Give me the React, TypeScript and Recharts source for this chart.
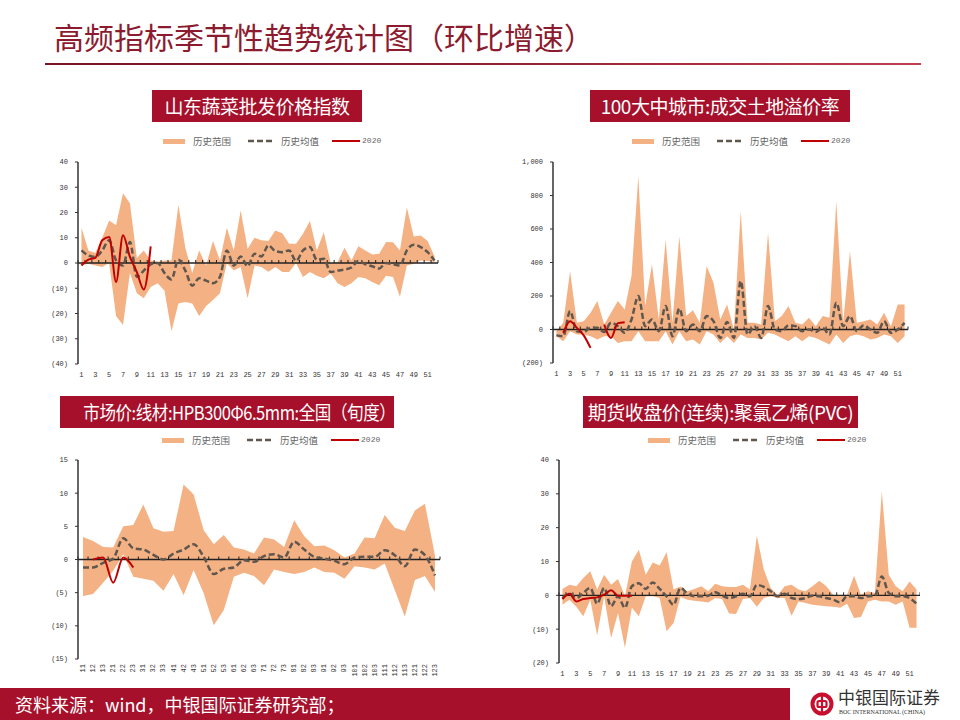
import React from 'react'
import { ComposedChart, Area, Line, XAxis, YAxis, ReferenceLine } from 'recharts'

const CJK = '"Noto Sans CJK SC", "Noto Sans", sans-serif'
const TICK_FONT = '"Liberation Mono", "DejaVu Sans Mono", monospace'
const BOX_RED = '#a6102b'
const AREA_FILL = '#f4b183'
const AVG_COLOR = '#5f564e'
const RED = '#c00000'

// week numbers 1..52 (category labels)
const WEEKS = Array.from({ length: 52 }, (_, i) => String(i + 1))
// month + dekad labels
const DEKADS = [
  '11', '12', '13', '21', '22', '23', '31', '32', '33', '41', '42', '43',
  '51', '52', '53', '61', '62', '63', '71', '72', '73', '81', '82', '83',
  '91', '92', '93', '101', '102', '103', '111', '112', '113', '121', '122', '123',
]

// 山东蔬菜批发价格指数
const vegHigh = [14, 5, 4, 10, 16.8, 15, 27.6, 23.7, 2, 5, 1, 0.5, 1, 1, 23, 6, -4, 5, -1, 8.7, 1, 14, 5, 20.8, 5.6, 10, 9, 8.7, 12.9, 11.8, 7.6, 7.6, 11.6, 16.6, 5, 12.2, 0, 0.4, 6, 1, 6.6, 5, 3.4, 3.7, 8.3, 8.2, 5, 22, 10.5, 10.9, 8.7, 2.6]
const vegLow = [-1, -0.3, -1, -1.6, 0, -21, -24.6, -4, -12, -14, -9.5, -8, -11, -27, -16, -15.4, -16, -21, -17, -14.7, -12, 0, -3, -1.6, -14, -1, -1.6, -3.5, -1.6, -3.6, -3.6, 0, -5.5, -3.6, -5, -6, -4.2, -8, -9.5, -8, -5.5, -6, -7.5, -8.8, -5, -5.5, -13.4, -1, -0.3, 1, 0.8, 0.4]
const vegAvg = [5, 3, 2.4, 5, 9, 1, -1, 8.3, -5.5, -3, -0.5, 0, -4, -6.5, 1.3, -3, -9, -6, -7, -8, -5.5, 5, -1, 2.6, -1.3, 3.7, 2.6, 7, 4.7, 4.3, 5, 0.8, 5, 6.3, 1.3, 1.7, -3.6, -3, -2.6, -1.8, 0.8, -0.5, -1.3, -2.2, 0, -0.5, -1, 5, 7.2, 6.3, 4.3, 1]
const veg2020 = [-1, 1.3, 2, 9, 10.3, -7.5, 11, 2.4, -3.6, -10.5, 6.6]

// 100大中城市:成交土地溢价率
const landHigh = [-10, 40, 348, 40, 50, 100, 170, 30, 100, 170, 120, 320, 915, 140, 390, 60, 537, 40, 557, 80, 115, 40, 378, 280, 60, 150, 0, 706, 40, 40, 30, 577, 50, 80, 140, 40, 30, 70, 20, 80, 70, 766, 40, 468, 40, 50, 60, 30, 100, 20, 150, 150]
const landLow = [-40, -70, -10, -30, -30, -40, -60, -40, -40, -80, -70, -70, -10, -70, -70, -70, -10, -90, -10, -70, -60, -90, -10, -30, -80, -40, -80, -30, -50, -50, -60, -20, -30, -50, -70, -40, -70, -40, -50, -70, -90, -30, -80, -40, -30, -40, -60, -50, -30, -40, -80, -40]
const landAvg = [-35, -40, 110, -10, -15, 10, 10, -15, 40, 20, -20, 60, 200, 20, 60, -10, 140, -40, 125, -10, 30, -10, 80, 50, -50, 45, -50, 290, -30, 20, -50, 140, 0, -10, 25, 20, -10, 0, -15, 10, -30, 160, 20, 80, -10, 25, 0, -20, 50, -20, 0, 40]
const land2020 = [null, -20, 50, 10, -35, -110, null, 30, -50, 38, 44]

// 市场价:线材:HPB300Φ6.5mm:全国（旬度）
const wireHigh = [3.4, 2.8, 1.9, 1.8, 5, 5.2, 8.3, 4.7, 4.2, 4.3, 11.3, 9.8, 4.4, 2.3, 3.7, 1.8, 1.5, 0.9, 3.3, 3.0, 1.9, 5.9, 3.5, 2.0, 2.1, 1.4, 0.3, 0.9, 3.3, 3.2, 6.7, 4.8, 4.3, 7.4, 8.4, 0.6]
const wireLow = [-5.5, -5.2, -3.5, -1.7, 0.8, -2.6, -2.9, -3.2, -4.7, -2.2, -5.4, -1.6, -5.1, -9.9, -7.6, -2.6, -2.0, -2.5, -3.9, -1.5, -1.9, -2.2, -1.9, -1.2, -1.9, -2.0, -2.9, -1.0, -1.2, -1.5, -0.6, -4.6, -8.6, -3.1, -2.5, -4.9]
const wireAvg = [-1.2, -1.2, -0.5, 0.15, 3.2, 1.7, 1.5, 0.7, 0, 0.9, 1.5, 2.3, 0.4, -2.2, -1.4, -1.2, -0.1, -0.35, 0.5, 0.8, 0.3, 2.7, 1.5, 0.4, 0.15, -0.2, -0.7, 0.3, 0.4, 0.4, 1.4, 0.65, -1.0, 1.5, 0.65, -2.4]
const wire2020 = [null, 0, 0.3, -3.5, 0.3, -1.2]

// 期货收盘价(连续):聚氯乙烯(PVC)
const pvcHigh = [1.9, 3.1, 2.7, 5.1, 7.1, 1.7, 6.1, 3.1, 4.8, -0.3, 10, 13.5, 6.1, 9.7, 8.8, 12.7, 1.7, 2.6, 1.2, 1.9, 2.7, 1.2, 3.4, 2.7, 2.5, 2.5, 3.1, 1.7, 17.6, 7.6, 2.2, 0, 2.7, 3.1, 1.7, 1.2, 2.7, 4.3, 2.7, 0.2, -0.3, 0.2, 5.8, 0.2, 1.2, 0.7, 30.7, 6.1, 2.7, 1.2, 4.1, 1.7]
const pvcLow = [-2.8, -1.3, -3.4, -6.2, -1.3, -11.9, -0.3, -12.6, -5.2, -15.5, -3.7, -6.2, -0.3, -0.3, -0.8, -10.6, -8.2, -0.5, -1.3, -1.6, -1.8, -2.1, -0.8, -1.1, -5.4, -5.5, -1.1, -0.8, -3.4, -0.8, -0.3, -0.8, -0.8, -6, -1.8, -2.3, -2.8, -3, -3.2, -3.4, -3.7, -2.5, -6.7, -6.4, -1.8, -1.3, -1.8, -1.8, -2.8, -1.8, -9.6, -9.6]
const pvcAvg = [-0.8, 0.5, -0.8, 0.7, 2.2, -2.5, 2.2, -3.2, -0.3, -3.7, 2.7, 3.6, 1.9, 3.8, 1.9, -0.3, -2.8, 2.2, 0.5, -0.3, -0.3, -0.1, 0.9, -0.1, -0.8, -0.3, 0.5, -0.3, 3.1, 2.5, 1.2, -0.3, 0.5, -0.8, -1.1, -0.8, -0.1, -0.3, -0.8, -1.3, -2.1, -0.3, -0.3, -0.8, -0.3, -0.1, 5.6, 0.7, -0.3, -0.3, -0.8, -2.5]
const pvc2020 = [-1.1, 0.5, -1.8, -1.1, -0.8, -0.6, 0.2, 1.5, -0.1, -0.1, -0.1]

function buildRows(cats: string[], low: number[], high: number[], avg: number[], cur: (number | null)[]) {
  return cats.map((c, i) => ({
    cat: c,
    range: [low[i], high[i]],
    avg: avg[i],
    cur: cur[i] ?? null,
  }))
}

const fmtY = (v: number) => {
  const s = Math.abs(v).toLocaleString('en-US')
  return v < 0 ? `(${s})` : s
}

// zero line with small category tick marks, drawn like the Excel category axis
const zeroAxis = (count: number) => (props: any) => {
  const { x1, x2, y1 } = props
  const step = (x2 - x1) / count
  return (
    <g>
      <line x1={x1} x2={x2} y1={y1} y2={y1} stroke="#222" strokeWidth={1.3} />
      {Array.from({ length: count + 1 }, (_, i) => (
        <line key={i} x1={x1 + i * step} x2={x1 + i * step} y1={y1} y2={y1 - 3} stroke="#222" strokeWidth={1} />
      ))}
    </g>
  )
}

const RotatedTick = (props: any) => {
  const { x, y, payload } = props
  return (
    <text
      x={x}
      y={y}
      transform={`rotate(-90 ${x} ${y})`}
      textAnchor="end"
      dominantBaseline="central"
      fontSize={7}
      fontFamily={TICK_FONT}
      fill="#333"
    >
      {payload.value}
    </text>
  )
}

type PanelProps = {
  left: number
  top: number
  width: number
  height: number
  yWidth: number
  right: number
  rows: any[]
  domain: [number, number]
  ticks: number[]
  rotated?: boolean
}

function Panel({ left, top, width, height, yWidth, right, rows, domain, ticks, rotated }: PanelProps) {
  return (
    <div style={{ position: 'absolute', left, top }}>
      <ComposedChart width={width} height={height} data={rows} margin={{ top: 12, right, bottom: 0, left: 0 }}>
        <XAxis
          dataKey="cat"
          scale="band"
          axisLine={false}
          tickLine={false}
          interval={rotated ? 0 : 1}
          height={rotated ? 30 : 20}
          tickSize={rotated ? 3 : 6}
          tickMargin={2}
          tick={rotated ? RotatedTick : { fontSize: 7, fill: '#333', fontFamily: TICK_FONT }}
        />
        <YAxis
          type="number"
          domain={domain}
          ticks={ticks}
          interval={0}
          width={yWidth}
          tickFormatter={fmtY}
          axisLine={{ stroke: '#333', strokeWidth: 1.5 }}
          tickLine={{ stroke: '#333' }}
          tickSize={3}
          tickMargin={7}
          tick={{ fontSize: 7, fill: '#333', fontFamily: TICK_FONT }}
        />
        <Area
          type="linear"
          dataKey="range"
          stroke="none"
          fill={AREA_FILL}
          fillOpacity={1}
          isAnimationActive={false}
        />
        <ReferenceLine y={0} shape={zeroAxis(rows.length)} />
        <Line
          type="monotone"
          dataKey="avg"
          stroke={AVG_COLOR}
          strokeWidth={2.5}
          strokeDasharray="6 3"
          dot={false}
          isAnimationActive={false}
        />
        <Line
          type="monotone"
          dataKey="cur"
          stroke={RED}
          strokeWidth={2}
          dot={false}
          connectNulls={false}
          isAnimationActive={false}
        />
      </ComposedChart>
    </div>
  )
}

function TitleBox({ left, top, width, text, squeeze = 1 }: { left: number; top: number; width: number; text: string; squeeze?: number }) {
  return (
    <div
      style={{
        position: 'absolute',
        left,
        top,
        width,
        height: 32,
        lineHeight: '32px',
        background: BOX_RED,
        color: '#fff',
        fontFamily: CJK,
        fontSize: 19,
        textAlign: 'center',
        whiteSpace: 'nowrap',
        letterSpacing: -0.5,
        overflow: 'hidden',
      }}
    >
      <span style={{ display: 'inline-block', transform: `scaleX(${squeeze})`, transformOrigin: 'center' }}>{text}</span>
    </div>
  )
}

function LegendRow({ left, top }: { left: number; top: number }) {
  const txt: React.CSSProperties = { fontSize: 9.5, color: '#666', lineHeight: '12px' }
  return (
    <div style={{ position: 'absolute', left, top, display: 'flex', alignItems: 'center', fontFamily: CJK, height: 12 }}>
      <span style={{ width: 22, height: 5, background: AREA_FILL, display: 'inline-block' }} />
      <span style={{ ...txt, marginLeft: 8 }}>历史范围</span>
      <svg width={25} height={4} style={{ marginLeft: 17 }}>
        <line x1={0} x2={25} y1={2} y2={2} stroke={AVG_COLOR} strokeWidth={2.5} strokeDasharray="6 3" />
      </svg>
      <span style={{ ...txt, marginLeft: 8 }}>历史均值</span>
      <span style={{ width: 28, height: 2.5, background: RED, display: 'inline-block', marginLeft: 13 }} />
      <span style={{ ...txt, marginLeft: 2, fontFamily: TICK_FONT, fontSize: 8 }}>2020</span>
    </div>
  )
}

export default function App() {
  const vegRows = buildRows(WEEKS, vegLow, vegHigh, vegAvg, veg2020)
  const landRows = buildRows(WEEKS, landLow, landHigh, landAvg, land2020)
  const wireRows = buildRows(DEKADS, wireLow, wireHigh, wireAvg, wire2020)
  const pvcRows = buildRows(WEEKS, pvcLow, pvcHigh, pvcAvg, pvc2020)

  return (
    <div style={{ position: 'absolute', left: 0, top: 0, width: 960, height: 720, background: '#fff', overflow: 'hidden' }}>
      <div
        style={{
          position: 'absolute',
          left: 54,
          top: 16,
          fontFamily: CJK,
          fontSize: 30,
          lineHeight: '40px',
          color: '#8c1b2f',
          whiteSpace: 'nowrap',
        }}
      >
        高频指标季节性趋势统计图（环比增速）
      </div>
      <div
        style={{
          position: 'absolute',
          left: 45,
          top: 63,
          width: 876,
          height: 2,
          background: 'linear-gradient(90deg, #7a1426 0%, #8c1b2f 45%, #c0404f 100%)',
        }}
      />

      <TitleBox left={152} top={90} width={210} text="山东蔬菜批发价格指数" />
      <TitleBox left={590} top={90} width={260} text="100大中城市:成交土地溢价率" />
      <TitleBox left={60} top={396} width={334} text="市场价:线材:HPB300Φ6.5mm:全国（旬度）" squeeze={0.87} />
      <TitleBox left={583} top={396} width={275} text="期货收盘价(连续):聚氯乙烯(PVC)" />

      <LegendRow left={163} top={135} />
      <LegendRow left={632} top={135} />
      <LegendRow left={162} top={434} />
      <LegendRow left={648} top={434} />

      <Panel left={0} top={150} width={440} height={234} yWidth={78} right={2} rows={vegRows} domain={[-40, 40]} ticks={[-40, -30, -20, -10, 0, 10, 20, 30, 40]} />
      <Panel left={480} top={150} width={430} height={233} yWidth={73} right={2} rows={landRows} domain={[-200, 1000]} ticks={[-200, 0, 200, 400, 600, 800, 1000]} />
      <Panel left={0} top={448} width={442} height={241} yWidth={78} right={2} rows={wireRows} domain={[-15, 15]} ticks={[-15, -10, -5, 0, 5, 10, 15]} rotated />
      <Panel left={480} top={448} width={440} height={235} yWidth={79} right={0} rows={pvcRows} domain={[-20, 40]} ticks={[-20, -10, 0, 10, 20, 30, 40]} />

      <div
        style={{
          position: 'absolute',
          left: 0,
          top: 688,
          width: 790,
          height: 32,
          background: BOX_RED,
          color: '#fff',
          fontFamily: CJK,
          fontSize: 18,
          lineHeight: '32px',
          paddingLeft: 15,
          boxSizing: 'border-box',
          whiteSpace: 'nowrap',
        }}
      >
        资料来源：wind，中银国际证券研究部；
      </div>
      <svg style={{ position: 'absolute', left: 810, top: 692 }} width={24} height={24}>
        <circle cx={12} cy={12} r={9.5} fill="none" stroke="#c8102e" strokeWidth={4} />
        <rect x={7.5} y={9} width={9} height={6} rx={1.5} fill="none" stroke="#c8102e" strokeWidth={2.2} />
        <line x1={12} x2={12} y1={3} y2={21} stroke="#c8102e" strokeWidth={2.2} />
      </svg>
      <div
        style={{
          position: 'absolute',
          left: 838,
          top: 687,
          fontFamily: CJK,
          fontSize: 17,
          lineHeight: '20px',
          color: '#333',
          whiteSpace: 'nowrap',
        }}
      >
        中银国际证券
      </div>
      <div
        style={{
          position: 'absolute',
          left: 839,
          top: 708,
          fontFamily: '"Liberation Serif", serif',
          fontSize: 6,
          lineHeight: '8px',
          color: '#333',
          whiteSpace: 'nowrap',
        }}
      >
        BOC INTERNATIONAL (CHINA)
      </div>
    </div>
  )
}
